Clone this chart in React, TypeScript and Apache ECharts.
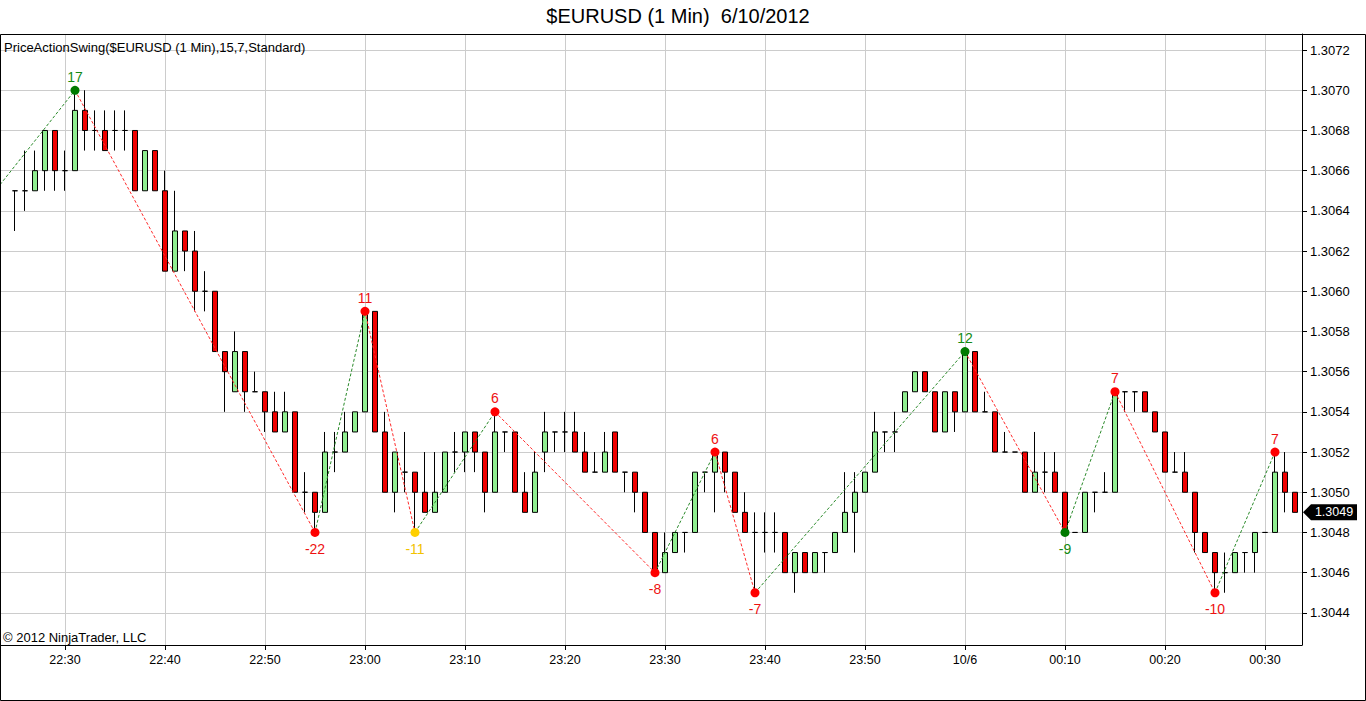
import React, { useEffect, useRef } from 'react';
import * as echarts from 'echarts';

const FONT = '"Liberation Sans", Arial, Helvetica, sans-serif';

// x value = minutes after 22:00 (the first bar, 22:25, is 25)
const FIRST_BAR_MINUTE = 25;
const X_MIN = 23.5;
const X_MAX = 153.7;
const Y_MIN = 1.30424;
const Y_MAX = 1.30728;

const OPEN = [
  1.3065, 1.3065, 1.3065, 1.3066, 1.3068, 1.3066, 1.3066, 1.3069, 1.3068, 1.3068,
  1.3068, 1.3068, 1.3068, 1.3065, 1.3067, 1.3065, 1.3061, 1.3063, 1.3062, 1.3060,
  1.3060, 1.3057, 1.3055, 1.3057, 1.3055, 1.3055, 1.3054, 1.3053, 1.3054, 1.3050,
  1.3050, 1.3049, 1.3052, 1.3052, 1.3053, 1.3054, 1.3059, 1.3053, 1.3050, 1.3051,
  1.3051, 1.3050, 1.3049, 1.3050, 1.3052, 1.3052, 1.3053, 1.3052, 1.3050, 1.3053,
  1.3053, 1.3050, 1.3049, 1.3052, 1.3053, 1.3053, 1.3053, 1.3052, 1.3051, 1.3051,
  1.3053, 1.3051, 1.3051, 1.3050, 1.3048, 1.3046, 1.3047, 1.3048, 1.3048, 1.3051,
  1.3051, 1.3052, 1.3051, 1.3049, 1.3048, 1.3048, 1.3048, 1.3048, 1.3046, 1.3047,
  1.3046, 1.3047, 1.3047, 1.3048, 1.3049, 1.3050, 1.3051, 1.3053, 1.3053, 1.3054,
  1.3055, 1.3056, 1.3055, 1.3053, 1.3055, 1.3054, 1.3057, 1.3054, 1.3054, 1.3052,
  1.3052, 1.3052, 1.3050, 1.3051, 1.3051, 1.3050, 1.3048, 1.3048, 1.3050, 1.3050,
  1.3050, 1.3055, 1.3055, 1.3055, 1.3054, 1.3053, 1.3051, 1.3051, 1.3050, 1.3048,
  1.3047, 1.3046, 1.3046, 1.3047, 1.3047, 1.3048, 1.3048, 1.3051, 1.3050,
];

const HIGH = [
  1.3065, 1.3067, 1.3067, 1.3068, 1.3068, 1.3067, 1.3070, 1.3070, 1.3069, 1.3069,
  1.3069, 1.3069, 1.3068, 1.3067, 1.3067, 1.3066, 1.3065, 1.3063, 1.3063, 1.3061,
  1.3060, 1.3057, 1.3058, 1.3057, 1.3056, 1.3055, 1.3055, 1.3055, 1.3054, 1.3051,
  1.3050, 1.3053, 1.3053, 1.3054, 1.3054, 1.3059, 1.3059, 1.3054, 1.3052, 1.3053,
  1.3051, 1.3052, 1.3052, 1.3052, 1.3053, 1.3053, 1.3053, 1.3052, 1.3054, 1.3053,
  1.3053, 1.3051, 1.3052, 1.3054, 1.3053, 1.3054, 1.3054, 1.3053, 1.3052, 1.3053,
  1.3053, 1.3051, 1.3051, 1.3050, 1.3048, 1.3048, 1.3048, 1.3048, 1.3051, 1.3051,
  1.3052, 1.3052, 1.3051, 1.3050, 1.3049, 1.3049, 1.3049, 1.3048, 1.3047, 1.3047,
  1.3047, 1.3047, 1.3048, 1.3051, 1.3051, 1.3051, 1.3054, 1.3053, 1.3054, 1.3055,
  1.3056, 1.3056, 1.3055, 1.3055, 1.3055, 1.3057, 1.3057, 1.3055, 1.3054, 1.3053,
  1.3052, 1.3052, 1.3053, 1.3052, 1.3052, 1.3050, 1.3048, 1.3050, 1.3050, 1.3051,
  1.3055, 1.3055, 1.3055, 1.3055, 1.3054, 1.3053, 1.3052, 1.3052, 1.3050, 1.3048,
  1.3047, 1.3047, 1.3047, 1.3047, 1.3048, 1.3048, 1.3052, 1.3052, 1.3050,
];

const LOW = [
  1.3063, 1.3064, 1.3065, 1.3065, 1.3065, 1.3065, 1.3066, 1.3067, 1.3067, 1.3067,
  1.3067, 1.3067, 1.3065, 1.3065, 1.3065, 1.3061, 1.3061, 1.3061, 1.3059, 1.3059,
  1.3057, 1.3054, 1.3055, 1.3054, 1.3055, 1.3053, 1.3053, 1.3053, 1.3050, 1.3049,
  1.3048, 1.3049, 1.3051, 1.3052, 1.3053, 1.3054, 1.3053, 1.3050, 1.3049, 1.3050,
  1.3048, 1.3049, 1.3049, 1.3050, 1.3051, 1.3051, 1.3051, 1.3049, 1.3050, 1.3052,
  1.3050, 1.3049, 1.3049, 1.3051, 1.3052, 1.3052, 1.3052, 1.3051, 1.3051, 1.3051,
  1.3051, 1.3050, 1.3049, 1.3048, 1.3046, 1.3046, 1.3047, 1.3047, 1.3048, 1.3050,
  1.3049, 1.3050, 1.3049, 1.3048, 1.3045, 1.3047, 1.3047, 1.3046, 1.3045, 1.3046,
  1.3046, 1.3046, 1.3047, 1.3048, 1.3047, 1.3050, 1.3051, 1.3052, 1.3052, 1.3054,
  1.3055, 1.3055, 1.3053, 1.3053, 1.3053, 1.3054, 1.3054, 1.3054, 1.3052, 1.3052,
  1.3052, 1.3050, 1.3050, 1.3050, 1.3050, 1.3048, 1.3048, 1.3048, 1.3049, 1.3050,
  1.3050, 1.3054, 1.3054, 1.3054, 1.3053, 1.3051, 1.3051, 1.3050, 1.3047, 1.3047,
  1.3045, 1.3045, 1.3046, 1.3046, 1.3046, 1.3048, 1.3048, 1.3049, 1.3049,
];

const CLOSE = [
  1.3065, 1.3065, 1.3066, 1.3068, 1.3066, 1.3066, 1.3069, 1.3068, 1.3068, 1.3067,
  1.3068, 1.3068, 1.3065, 1.3067, 1.3065, 1.3061, 1.3063, 1.3062, 1.3060, 1.3060,
  1.3057, 1.3056, 1.3057, 1.3055, 1.3055, 1.3054, 1.3053, 1.3054, 1.3050, 1.3050,
  1.3049, 1.3052, 1.3052, 1.3053, 1.3054, 1.3059, 1.3053, 1.3050, 1.3052, 1.3051,
  1.3050, 1.3049, 1.3050, 1.3052, 1.3052, 1.3053, 1.3052, 1.3050, 1.3053, 1.3053,
  1.3050, 1.3049, 1.3051, 1.3053, 1.3053, 1.3053, 1.3052, 1.3051, 1.3051, 1.3052,
  1.3051, 1.3051, 1.3050, 1.3048, 1.3046, 1.3047, 1.3048, 1.3048, 1.3051, 1.3051,
  1.3052, 1.3051, 1.3049, 1.3048, 1.3048, 1.3048, 1.3048, 1.3046, 1.3047, 1.3046,
  1.3047, 1.3047, 1.3048, 1.3049, 1.3050, 1.3051, 1.3053, 1.3053, 1.3053, 1.3055,
  1.3056, 1.3055, 1.3053, 1.3055, 1.3054, 1.3057, 1.3054, 1.3054, 1.3052, 1.3052,
  1.3052, 1.3050, 1.3051, 1.3051, 1.3050, 1.3048, 1.3048, 1.3050, 1.3050, 1.3050,
  1.3055, 1.3055, 1.3055, 1.3054, 1.3053, 1.3051, 1.3051, 1.3050, 1.3048, 1.3047,
  1.3046, 1.3046, 1.3047, 1.3047, 1.3048, 1.3048, 1.3051, 1.3050, 1.3049,
];

const X_TICKS = [30, 40, 50, 60, 70, 80, 90, 100, 110, 120, 130, 140, 150];
const X_TICK_LABELS = ['22:30', '22:40', '22:50', '23:00', '23:10', '23:20', '23:30', '23:40', '23:50', '10/6', '00:10', '00:20', '00:30'];
const Y_TICKS = [1.3044, 1.3046, 1.3048, 1.3050, 1.3052, 1.3054, 1.3056, 1.3058, 1.3060, 1.3062, 1.3064, 1.3066, 1.3068, 1.3070, 1.3072];

// swing points of the PriceActionSwing indicator
const SWING_X = [31, 55, 60, 65, 73, 89, 95, 99, 120, 130, 135, 145, 151];
const SWING_PRICE = [1.3070, 1.3048, 1.3059, 1.3048, 1.3054, 1.3046, 1.3052, 1.3045, 1.3057, 1.3048, 1.3055, 1.3045, 1.3052];
const SWING_LABEL = ['17', '-22', '11', '-11', '6', '-8', '6', '-7', '12', '-9', '7', '-10', '7'];
const SWING_KIND = ['HH', 'LL', 'LH', 'DB', 'LH', 'LL', 'LH', 'LL', 'HH', 'HL', 'LH', 'LL', 'LH'];
// the leg entering from the left edge of the chart
const LEAD_IN = [X_MIN, 1.30653];

const KIND_COLOR: Record<string, string> = {
  HH: '#007a00', HL: '#007a00', LH: '#ff0000', LL: '#ff0000', DB: '#ffd000', DT: '#ffd000',
};
const KIND_LABEL_COLOR: Record<string, string> = {
  HH: '#138a13', HL: '#138a13', LH: '#ee1111', LL: '#ee1111', DB: '#f2c200', DT: '#f2c200',
};

export default function App() {
  const ref = useRef<HTMLDivElement>(null);

  useEffect(() => {
    if (!ref.current) return;
    const chart = echarts.init(ref.current, null, { renderer: 'svg' });

    const candleData = OPEN.map((o, i) => [FIRST_BAR_MINUTE + i, o, CLOSE[i], LOW[i], HIGH[i]]);

    const pts: number[][] = [LEAD_IN, ...SWING_X.map((x, i) => [x, SWING_PRICE[i]])];
    const legSeries: any[] = [];
    for (let k = 0; k < pts.length - 1; k++) {
      const up = pts[k + 1][1] > pts[k][1];
      legSeries.push({
        type: 'line',
        data: [pts[k], pts[k + 1]],
        symbol: 'none',
        silent: true,
        z: 3,
        lineStyle: { color: up ? '#2a8a2a' : '#ff2a2a', width: 1, type: [3, 2] },
      });
    }

    const swingData = SWING_X.map((x, i) => {
      const kind = SWING_KIND[i];
      const isHigh = kind === 'HH' || kind === 'LH' || kind === 'DT';
      return {
        value: [x, SWING_PRICE[i]],
        itemStyle: { color: KIND_COLOR[kind], opacity: 1 },
        label: {
          show: true,
          formatter: SWING_LABEL[i],
          position: isHigh ? 'top' : 'bottom',
          distance: isHigh ? 2 : 5,
          color: KIND_LABEL_COLOR[kind],
          fontSize: 14,
          fontFamily: FONT,
        },
      };
    });

    const lastClose = CLOSE[CLOSE.length - 1];

    const isMultiple = (v: number, step: number) => Math.abs(v / step - Math.round(v / step)) < 1e-6;

    const option: any = {
      animation: false,
      backgroundColor: '#ffffff',
      grid: {
        left: 0, top: 34, right: 64, bottom: 56,
        containLabel: false, outerBoundsMode: 'none', show: false,
      },
      xAxis: {
        type: 'value',
        min: X_MIN,
        max: X_MAX,
        minInterval: 10,
        maxInterval: 10,
        splitNumber: 13,
        axisLine: { show: true, onZero: false, lineStyle: { color: '#000', width: 1 } },
        axisTick: { show: true, inside: false, length: 5, customValues: X_TICKS, lineStyle: { color: '#000' } },
        axisLabel: {
          show: true,
          customValues: X_TICKS,
          color: '#000',
          fontSize: 12.5,
          fontFamily: FONT,
          margin: 8,
          formatter: (v: number) => {
            if (!isMultiple(v, 10)) return '';
            const k = X_TICKS.indexOf(Math.round(v));
            return k >= 0 ? X_TICK_LABELS[k] : '';
          },
        },
        splitLine: { show: true, lineStyle: { color: '#cccccc', width: 1 } },
      },
      yAxis: {
        type: 'value',
        position: 'right',
        min: Y_MIN,
        max: Y_MAX,
        scale: true,
        minInterval: 0.0002,
        maxInterval: 0.0002,
        splitNumber: 15,
        axisLine: { show: true, onZero: false, lineStyle: { color: '#000', width: 1 } },
        axisTick: { show: true, inside: false, length: 5, customValues: Y_TICKS, lineStyle: { color: '#000' } },
        axisLabel: {
          show: true,
          customValues: Y_TICKS,
          color: '#000',
          fontSize: 13,
          fontFamily: FONT,
          margin: 8,
          formatter: (v: number) => (isMultiple(v, 0.0002) ? v.toFixed(4) : ''),
        },
        splitLine: { show: true, lineStyle: { color: '#cccccc', width: 1 } },
      },
      series: [
        {
          type: 'candlestick',
          data: candleData,
          barWidth: 6,
          z: 2,
          silent: true,
          itemStyle: {
            color: '#90ee90',
            color0: '#f00000',
            borderColor: '#000000',
            borderColor0: '#000000',
            borderColorDoji: '#000000',
            borderWidth: 1,
          },
          markPoint: {
            silent: true,
            symbol: 'path://M0 8 L8 0 L54 0 L54 16 L8 16 Z',
            symbolSize: [54, 16],
            symbolOffset: [28, 0],
            itemStyle: { color: '#000000' },
            label: {
              show: true,
              position: 'inside',
              offset: [4, 0],
              color: '#ffffff',
              fontSize: 12.5,
              fontFamily: FONT,
              formatter: lastClose.toFixed(4),
            },
            data: [{ coord: [X_MAX, lastClose] }],
          },
        },
        ...legSeries,
        {
          type: 'scatter',
          data: swingData,
          symbol: 'circle',
          symbolSize: 9,
          silent: true,
          z: 4,
          itemStyle: { opacity: 1 },
        },
      ],
      graphic: [
        {
          type: 'text',
          x: 678,
          y: 16,
          silent: true,
          style: {
            text: '$EURUSD (1 Min)  6/10/2012',
            fill: '#000',
            font: `20px ${FONT}`,
            align: 'center',
            verticalAlign: 'middle',
          },
        },
        {
          type: 'text',
          x: 4,
          y: 47,
          silent: true,
          z: 10,
          style: {
            text: 'PriceActionSwing($EURUSD (1 Min),15,7,Standard)',
            fill: '#000',
            font: `13px ${FONT}`,
            align: 'left',
            verticalAlign: 'middle',
          },
        },
        {
          type: 'text',
          x: 3,
          y: 637,
          silent: true,
          z: 10,
          style: {
            text: '© 2012 NinjaTrader, LLC',
            fill: '#000',
            font: `13px ${FONT}`,
            align: 'left',
            verticalAlign: 'middle',
          },
        },
        {
          type: 'rect',
          silent: true,
          z: 20,
          shape: { x: 0.5, y: 34.5, width: 1365, height: 666 },
          style: { fill: 'none', stroke: '#000', lineWidth: 1 },
        },
      ],
    };

    chart.setOption(option);
    return () => chart.dispose();
  }, []);

  return (
    <div
      ref={ref}
      style={{ position: 'absolute', left: 0, top: 0, width: 1366, height: 701, background: '#fff' }}
    />
  );
}
